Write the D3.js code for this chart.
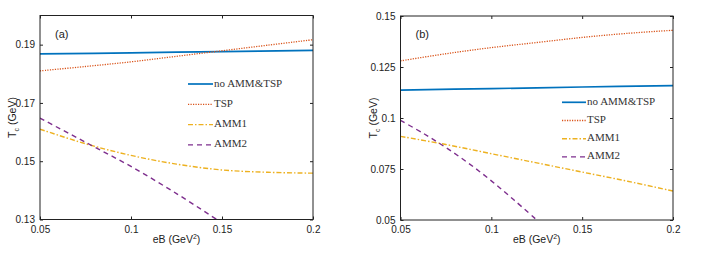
<!DOCTYPE html>
<html>
<head>
<meta charset="utf-8">
<script src="https://cdn.jsdelivr.net/npm/d3@7"></script>
<style>
  body { margin: 0; background: #fff; }
  svg { display: block; }
</style>
</head>
<body>
<svg id="fig" width="706" height="254"></svg>
<script>
// series names and legend labels
const seriesNames = ["no AMM&TSP", "TSP", "AMM1", "AMM2"];

// panel (a)
const aNoX = [0.05, 0.1, 0.15, 0.2];
const aNoY = [0.1868, 0.1872, 0.1876, 0.188];
const aTspX = [0.05, 0.075, 0.1, 0.125, 0.15, 0.175, 0.2];
const aTspY = [0.181, 0.1825, 0.1841, 0.186, 0.1879, 0.1898, 0.1917];
const aAmm1X = [0.05, 0.075, 0.1, 0.125, 0.15, 0.175, 0.2];
const aAmm1Y = [0.161, 0.156, 0.152, 0.149, 0.147, 0.1462, 0.1459];
const aAmm2X = [0.05, 0.075, 0.1, 0.125, 0.1471];
const aAmm2Y = [0.1648, 0.1565, 0.1482, 0.1389, 0.13];
const aYTicks = [0.13, 0.15, 0.17, 0.19];

// panel (b)
const bNoX = [0.05, 0.1, 0.15, 0.2];
const bNoY = [0.1137, 0.1144, 0.1152, 0.1159];
const bTspX = [0.05, 0.075, 0.1, 0.125, 0.15, 0.175, 0.2];
const bTspY = [0.128, 0.1315, 0.1345, 0.137, 0.1395, 0.1415, 0.143];
const bAmm1X = [0.05, 0.075, 0.1, 0.125, 0.15, 0.175, 0.2];
const bAmm1Y = [0.091, 0.087, 0.0825, 0.078, 0.0735, 0.069, 0.0642];
const bAmm2X = [0.05, 0.0625, 0.075, 0.0875, 0.1, 0.1125, 0.125];
const bAmm2Y = [0.0988, 0.0925, 0.0855, 0.0778, 0.0692, 0.0598, 0.05];
const bYTicks = [0.05, 0.075, 0.1, 0.125, 0.15];

const xTicks = [0.05, 0.1, 0.15, 0.2];

const cols = ["#0072BD", "#D95319", "#EDB120", "#7E2F8E"];
const dashes = ["none", "1.2,1.3", "5,2,1.5,2", "5,4"];
const widths = [1.7, 1.3, 1.4, 1.4];

const svg = d3.select("#fig");

function zip(xs, ys) { return xs.map((x, i) => [x, ys[i]]); }

function panel(opts) {
  const { left, right, top, bottom, ydom, yticks, series, tag, leg } = opts;
  const x = d3.scaleLinear().domain([0.05, 0.2]).range([left, right]);
  const y = d3.scaleLinear().domain(ydom).range([bottom, top]);
  const g = svg.append("g");

  const cid = "clip" + tag;
  g.append("clipPath").attr("id", cid)
    .append("rect").attr("x", left).attr("y", top)
    .attr("width", right - left).attr("height", bottom - top);

  // curves
  const line = d3.line().x(d => x(d[0])).y(d => y(d[1])).curve(d3.curveCatmullRom.alpha(0.5));
  g.append("g").attr("clip-path", `url(#${cid})`)
    .selectAll("path")
    .data(series)
    .join("path")
    .attr("d", d => line(d))
    .attr("fill", "none")
    .attr("stroke", (d, i) => cols[i])
    .attr("stroke-width", (d, i) => widths[i])
    .attr("stroke-dasharray", (d, i) => dashes[i]);

  // axes (inward ticks, mirrored on top / right like a box)
  const tk = 3;
  g.append("g").attr("transform", `translate(0,${bottom})`)
    .call(d3.axisBottom(x).tickValues(xTicks).tickSizeInner(-tk).tickSizeOuter(0).tickPadding(6).tickFormat(d3.format("")))
    .call(a => a.select(".domain").remove());
  g.append("g").attr("transform", `translate(0,${top})`)
    .call(d3.axisTop(x).tickValues(xTicks).tickSizeInner(-tk).tickSizeOuter(0).tickFormat(""))
    .call(a => a.select(".domain").remove());
  g.append("g").attr("transform", `translate(${left},0)`)
    .call(d3.axisLeft(y).tickValues(yticks).tickSizeInner(-tk).tickSizeOuter(0).tickPadding(5).tickFormat(d3.format("")))
    .call(a => a.select(".domain").remove());
  g.append("g").attr("transform", `translate(${right},0)`)
    .call(d3.axisRight(y).tickValues(yticks).tickSizeInner(-tk).tickSizeOuter(0).tickFormat(""))
    .call(a => a.select(".domain").remove());

  g.selectAll(".tick line").attr("stroke", "#222").attr("stroke-width", 1);
  g.selectAll(".tick text")
    .attr("font-family", "Liberation Sans, Arial, sans-serif")
    .attr("font-size", "10px")
    .attr("fill", "#222");

  g.append("rect")
    .attr("x", left).attr("y", top)
    .attr("width", right - left).attr("height", bottom - top)
    .attr("fill", "none").attr("stroke", "#222").attr("stroke-width", 1);

  // panel tag
  g.append("text")
    .attr("x", left + 15).attr("y", top + 22)
    .attr("font-family", "Liberation Sans, Arial, sans-serif")
    .attr("font-size", "11px")
    .attr("fill", "#222")
    .text(`(${tag})`);

  // axis titles
  const xt = g.append("text")
    .attr("x", (left + right) / 2).attr("y", 243)
    .attr("text-anchor", "middle")
    .attr("font-family", "Liberation Sans, Arial, sans-serif")
    .attr("font-size", "10.5px")
    .attr("fill", "#222");
  xt.append("tspan").text("eB (GeV");
  xt.append("tspan").attr("font-size", "7px").attr("dy", -4).text("2");
  xt.append("tspan").attr("dy", 4).text(")");

  const yt = g.append("text")
    .attr("transform", `translate(${left - 24},${(top + bottom) / 2}) rotate(-90)`)
    .attr("text-anchor", "middle")
    .attr("font-family", "Liberation Sans, Arial, sans-serif")
    .attr("font-size", "10.5px")
    .attr("fill", "#222");
  yt.append("tspan").text("T");
  yt.append("tspan").attr("font-size", "7px").attr("dy", 3).text("c");
  yt.append("tspan").attr("dy", -3).text(" (GeV)");

  // legend
  const lg = g.append("g");
  seriesNames.forEach((name, i) => {
    const yy = leg.y + i * leg.dy;
    lg.append("line")
      .attr("x1", leg.x).attr("x2", leg.x + leg.len)
      .attr("y1", yy).attr("y2", yy)
      .attr("stroke", cols[i])
      .attr("stroke-width", widths[i])
      .attr("stroke-dasharray", dashes[i]);
    lg.append("text")
      .attr("x", leg.x + leg.len + 1).attr("y", yy)
      .attr("dominant-baseline", "middle")
      .attr("font-family", "Liberation Serif, Times New Roman, serif")
      .attr("font-size", "11px")
      .attr("fill", "#333")
      .text(name);
  });
}

panel({
  left: 40, right: 313, top: 15.5, bottom: 219.5,
  ydom: [0.13, 0.2], yticks: aYTicks, tag: "a",
  series: [zip(aNoX, aNoY), zip(aTspX, aTspY), zip(aAmm1X, aAmm1Y), zip(aAmm2X, aAmm2Y)],
  leg: { x: 188, y: 84, dy: 20.3, len: 25 }
});

panel({
  left: 400.5, right: 673, top: 16, bottom: 220,
  ydom: [0.05, 0.15], yticks: bYTicks, tag: "b",
  series: [zip(bNoX, bNoY), zip(bTspX, bTspY), zip(bAmm1X, bAmm1Y), zip(bAmm2X, bAmm2Y)],
  leg: { x: 562, y: 102.3, dy: 18.2, len: 24 }
});
</script>
</body>
</html>
